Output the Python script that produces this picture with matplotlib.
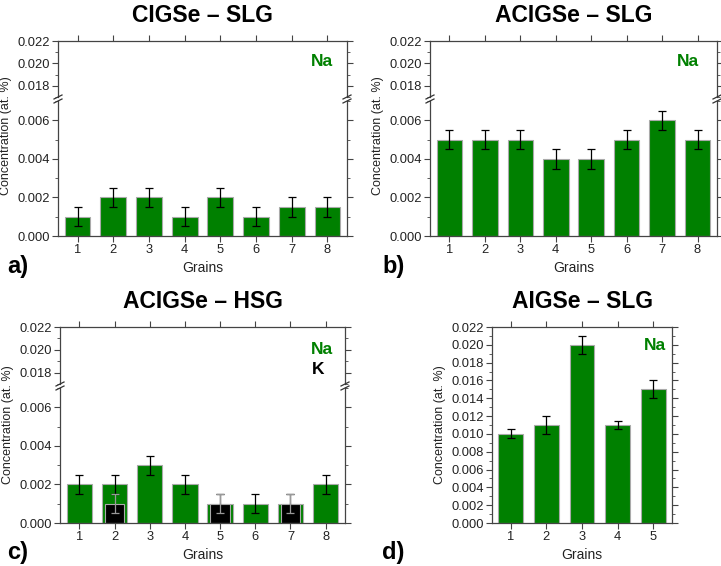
import matplotlib.pyplot as plt
import numpy as np

plt.rcParams['font.family'] = ['Liberation Sans', 'DejaVu Sans']

GREEN = '#008000'

# data
grains8 = [1, 2, 3, 4, 5, 6, 7, 8]
grains5 = [1, 2, 3, 4, 5]

na_a = [0.001, 0.002, 0.002, 0.001, 0.002, 0.001, 0.0015, 0.0015]
err_a = [0.0005] * 8

na_b = [0.005, 0.005, 0.005, 0.004, 0.004, 0.005, 0.006, 0.005]
err_b = [0.0005] * 8

na_c = [0.002, 0.002, 0.003, 0.002, 0.001, 0.001, 0.001, 0.002]
err_c = [0.0005] * 8
k_grains = [2, 5, 7]
k_c = [0.001, 0.001, 0.001]
k_err = [0.0005, 0.0005, 0.0005]

na_d = [0.010, 0.011, 0.020, 0.011, 0.015]
err_d = [0.0005, 0.001, 0.001, 0.0005, 0.001]

titles = ['CIGSe – SLG', 'ACIGSe – SLG', 'ACIGSe – HSG', 'AIGSe – SLG']

W, H = 721, 566
fig = plt.figure(figsize=(W / 100, H / 100), dpi=100)

TICK_FS = 9.3
LAB_FS = 10


def frac(x0, x1, y0, y1):
    # pixel box -> figure fraction rect
    return [x0 / W, 1 - y1 / H, (x1 - x0) / W, (y1 - y0) / H]


def style(ax):
    for s in ax.spines.values():
        s.set_color('#444444')
        s.set_linewidth(0.9)
    ax.tick_params(which='both', direction='out', top=True, right=True,
                   labelsize=TICK_FS, color='#444444', labelcolor='#222222', pad=2)
    ax.tick_params(which='major', length=4)
    ax.tick_params(which='minor', length=2)


def bars(ax, x, y, e, color=GREEN, width=0.72, ecolor='black'):
    ax.bar(x, y, width=width, color=color, edgecolor='#aaaaaa', linewidth=0.8, zorder=2)
    ax.errorbar(x, y, yerr=e, fmt='none', ecolor=ecolor, elinewidth=0.9,
                capsize=3, capthick=0.9, zorder=3)


def broken_panel(x0, x1, y_top, y_brk1, y_brk2, y_bot, xs, vals, errs, k=None):
    up = fig.add_axes(frac(x0, x1, y_top, y_brk1))
    lo = fig.add_axes(frac(x0, x1, y_brk2, y_bot))
    for ax in (up, lo):
        style(ax)
        bars(ax, xs, vals, errs)
        if k is not None:
            bars(ax, k[0], k[1], k[2], color='black', width=0.55, ecolor='#999999')
        ax.set_xlim(0.45, len(xs) + 0.55)
        ax.set_xticks(xs)
    up.set_ylim(0.017, 0.022)
    up.set_yticks([0.018, 0.020, 0.022])
    up.set_yticks([0.017, 0.019, 0.021], minor=True)
    up.yaxis.set_major_formatter(plt.FormatStrFormatter('%.3f'))
    up.spines['bottom'].set_visible(False)
    up.tick_params(axis='x', which='both', bottom=False, labelbottom=False)
    lo.set_ylim(0, 0.007)
    lo.set_yticks([0, 0.002, 0.004, 0.006])
    lo.set_yticks([0.001, 0.003, 0.005, 0.007], minor=True)
    lo.yaxis.set_major_formatter(plt.FormatStrFormatter('%.3f'))
    lo.spines['top'].set_visible(False)
    lo.tick_params(axis='x', which='both', top=False)
    # break marks
    d = 4
    for xx in (x0, x1):
        for yy in (y_brk1, y_brk2):
            fig.add_artist(plt.Line2D([(xx - d) / W, (xx + d) / W],
                                      [1 - (yy + 2) / H, 1 - (yy - 2) / H],
                                      color='#333333', lw=0.9))
    return up, lo


def decorate(x0, x1, y_top, y_bot, title, label, lab_xy):
    cx = (x0 + x1) / 2
    fig.text(cx / W, 1 - (y_top - 26) / H, title, ha='center', va='center',
             fontsize=16.5, fontweight='bold')
    fig.text(cx / W, 1 - (y_bot + 32) / H, 'Grains', ha='center', va='center',
             fontsize=LAB_FS, color='#222222')
    fig.text(lab_xy[0] / W, 1 - lab_xy[1] / H, label, ha='left', va='center',
             fontsize=17, fontweight='bold')


def ylabel(x, y):
    fig.text(x / W, 1 - y / H, 'Concentration (at. %)', rotation=90, ha='center',
             va='center', fontsize=9, color='#222222')


def tag(x, y, s, color=GREEN):
    fig.text(x / W, 1 - y / H, s, ha='center', va='center',
             color=color, fontsize=12.5, fontweight='bold')


# panel a
broken_panel(58, 347, 41, 97, 101, 236, grains8, na_a, err_a)
tag(322, 61, 'Na')
ylabel(6, 136)
decorate(58, 347, 41, 236, titles[0], 'a)', (7, 267))

# panel b
broken_panel(430, 717, 41, 97, 101, 236, grains8, na_b, err_b)
tag(688, 61, 'Na')
ylabel(378, 136)
decorate(430, 717, 41, 236, titles[1], 'b)', (382, 267))

# panel c
broken_panel(60, 345, 327, 384, 388, 523, grains8, na_c, err_c,
             k=(k_grains, k_c, k_err))
tag(322, 349, 'Na')
tag(318, 370, 'K', color='black')
ylabel(8, 425)
decorate(60, 345, 327, 523, titles[2], 'c)', (7, 553))

# panel d
ax = fig.add_axes(frac(492, 672, 327, 523))
style(ax)
bars(ax, grains5, na_d, err_d, width=0.7)
ax.set_xlim(0.47, 5.53)
ax.set_xticks(grains5)
ax.set_ylim(0, 0.022)
ax.set_yticks(np.arange(0, 0.0221, 0.002))
ax.set_yticks(np.arange(0.001, 0.022, 0.002), minor=True)
ax.yaxis.set_major_formatter(plt.FormatStrFormatter('%.3f'))
tag(655, 346, 'Na')
ylabel(440, 425)
decorate(492, 672, 327, 523, titles[3], 'd)', (382, 553))

plt.savefig('out.png', dpi=100)
